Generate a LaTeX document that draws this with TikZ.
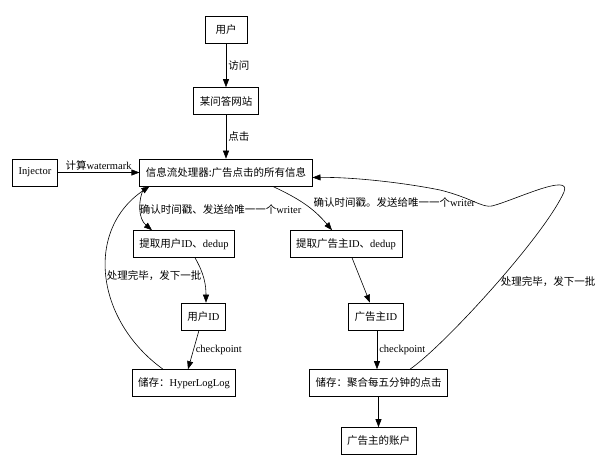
\documentclass[tikz,border=0pt]{standalone}
\usepackage{fontspec}
\setmainfont{Liberation Serif}
\newfontfamily\cjk{Noto Sans CJK SC}
\usetikzlibrary{arrows.meta}

\tikzset{
  box/.style={draw, minimum height=27pt, inner xsep=6pt},
  lbl/.style={inner sep=2pt},
}

\begin{document}
\begin{tikzpicture}[x=1pt,y=1pt,font=\fontsize{10.5pt}{12pt}\selectfont,
  >={Triangle[length=8pt,width=6pt]},line width=0.6pt]
\useasboundingbox (0,0) rectangle (600,469);
% boxes
\node[box,minimum width=42pt] (user) at (226,439.5) {{\cjk 用户}};
\node[box] (site) at (226,368) {{\cjk 某问答网站}};
\node[box] (inj) at (35,296.5) {Injector};
\node[box] (proc) at (226,296.5) {{\cjk 信息流处理器:广告点击的所有信息}};
\node[box] (uidx) at (184,225) {{\cjk 提取用户}ID{\cjk 、}dedup};
\node[box] (aidx) at (346,225) {{\cjk 提取广告主}ID{\cjk 、}dedup};
\node[box] (uid) at (203.5,152.5) {{\cjk 用户}ID};
\node[box] (aid) at (376,152.5) {{\cjk 广告主}ID};
\node[box] (hll) at (184,86) {{\cjk 储存：}HyperLogLog};
\node[box] (agg) at (378.5,86) {{\cjk 储存：聚合每五分钟的点击}};
\node[box] (acct) at (378.5,28) {{\cjk 广告主的账户}};
% edges
\draw[->] (user) -- node[lbl,right] {{\cjk 访问}} (site);
\draw[->] (site) -- node[lbl,right] {{\cjk 点击}} (proc);
\draw[->] (inj) -- node[lbl,above] {{\cjk 计算}watermark} (proc);
\draw[->] ([xshift=5pt]proc.south west) to[out=-115,in=140]
  node[lbl,pos=.5,right,xshift=-3pt] {{\cjk 确认时间戳、发送给唯一一个}writer} ([xshift=-32pt]uidx.north);
\draw[->] ([xshift=-40pt]proc.south east) to[out=-25,in=130]
  node[lbl,pos=.45,right,xshift=9pt] {{\cjk 确认时间戳。发送给唯一一个}writer} ([xshift=-14pt]aidx.north);
\draw[->] ([xshift=11pt]uidx.south) to[out=-60,in=90] ([xshift=2.5pt]uid.north);
\draw[->] ([xshift=-4.5pt]uid.south) -- node[lbl,right] {checkpoint} ([xshift=4pt]hll.north);
\draw[->] ([xshift=6pt]aidx.south) -- ([xshift=-6pt]aid.north);
\draw[->] ([xshift=1pt]aid.south) -- node[lbl,right] {checkpoint} ([xshift=-1.5pt]agg.north);
\draw[->] (agg) -- (acct);
% feedback
\draw[->] ([xshift=-21pt]hll.north) .. controls (95,149) and (85,239) ..
  node[lbl,pos=.5,right,inner sep=0pt] {{\cjk 处理完毕，发下一批}} ([xshift=10pt]proc.south west);
\draw[->] ([xshift=31.5pt]agg.north) .. controls (445,124) and (545,234) ..
  node[lbl,pos=.53,right] {{\cjk 处理完毕，发下一批}} (564,277)
  .. controls (572,297) and (515,269) .. (492,263)
  .. controls (482,261) and (472,271) .. (440,279)
  .. controls (400,287) and (350,292) .. ([yshift=-5pt]proc.east);
\end{tikzpicture}
\end{document}
